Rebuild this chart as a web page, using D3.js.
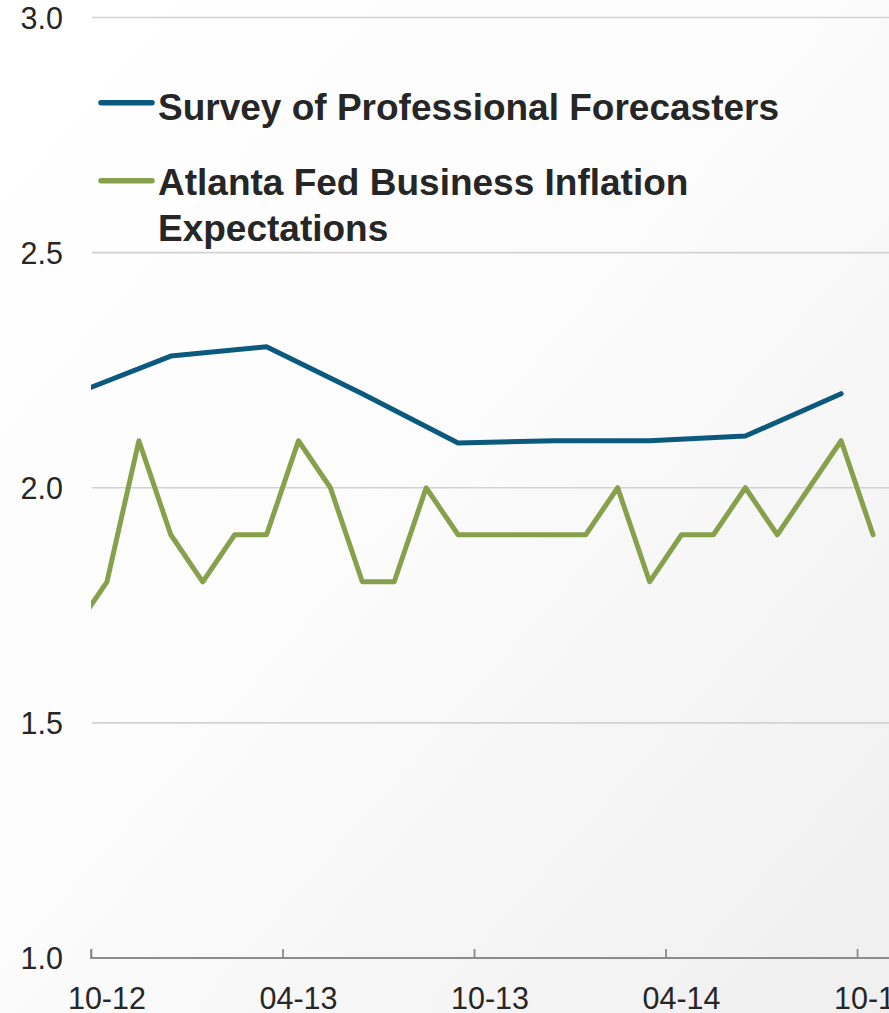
<!DOCTYPE html>
<html>
<head>
<meta charset="utf-8">
<script src="https://cdn.jsdelivr.net/npm/d3@7"></script>
<style>
  html, body { margin: 0; padding: 0; background: #ffffff; }
  svg { display: block; font-family: "Liberation Sans", Arial, sans-serif; }
</style>
</head>
<body>
<div id="chart"></div>
<script>
// Monthly index: 0 = Oct 2012 ... 24 = Oct 2014 (-1 = Sep 2012, just left of the plot)
const atlantaMonths = [-1, 0, 1, 2, 3, 4, 5, 6, 7, 8, 9, 10, 11, 12, 13, 14, 15, 16, 17, 18, 19, 20, 21, 22, 23, 24];
const atlantaValues = [1.7, 1.8, 2.1, 1.9, 1.8, 1.9, 1.9, 2.1, 2.0, 1.8, 1.8, 2.0, 1.9, 1.9, 1.9, 1.9, 1.9, 2.0, 1.8, 1.9, 1.9, 2.0, 1.9, 2.0, 2.1, 1.9];

// Quarterly survey readings
const spfMonths = [-1, 2, 5, 8, 11, 14, 17, 20, 23];
const spfValues = [2.2, 2.28, 2.30, 2.2, 2.095, 2.10, 2.10, 2.11, 2.20];

const yTicks = [1.0, 1.5, 2.0, 2.5, 3.0];
const xTickMonths = [0, 6, 12, 18, 24];
const xTickLabels = ["10-12", "04-13", "10-13", "04-14", "10-14"];

const seriesNames = ["Survey of Professional Forecasters", "Atlanta Fed Business Inflation", "Expectations"];

const W = 889, H = 1013;
const colors = { spf: "#0b5a7e", atlanta: "#87a04b" };

const svg = d3.select("#chart").append("svg")
  .attr("width", W).attr("height", H);

// soft background shading
const defs = svg.append("defs");
const grad = defs.append("linearGradient").attr("id", "bg")
  .attr("x1", "0").attr("y1", "0").attr("x2", "1").attr("y2", "1");
grad.append("stop").attr("offset", "0").attr("stop-color", "#ffffff");
grad.append("stop").attr("offset", "0.45").attr("stop-color", "#fcfcfc");
grad.append("stop").attr("offset", "0.75").attr("stop-color", "#f5f5f5");
grad.append("stop").attr("offset", "1").attr("stop-color", "#efefef");
svg.append("rect").attr("width", W).attr("height", H).attr("fill", "url(#bg)");

const plotLeft = 91, plotRight = 889, plotTop = 17.5, plotBottom = 958;

const x = d3.scaleLinear().domain([0, 25]).range([plotLeft, plotRight]);
const y = d3.scaleLinear().domain([1, 3]).range([plotBottom, plotTop]);

defs.append("clipPath").attr("id", "plotClip")
  .append("rect").attr("x", plotLeft).attr("y", 0)
  .attr("width", plotRight - plotLeft).attr("height", H);

// horizontal gridlines
svg.append("g")
  .selectAll("line")
  .data(yTicks.filter(v => v > 1))
  .join("line")
  .attr("x1", plotLeft + 1).attr("x2", plotRight)
  .attr("y1", d => y(d)).attr("y2", d => y(d))
  .attr("stroke", "#d2d2d2").attr("stroke-width", 1.6);

// y-axis labels
const yAxis = d3.axisLeft(y).tickValues(yTicks).tickFormat(d3.format(".1f")).tickSize(0).tickPadding(0);
svg.append("g")
  .attr("transform", `translate(63,0)`)
  .call(yAxis)
  .call(g => g.select(".domain").remove())
  .call(g => g.selectAll("text")
    .attr("font-size", "30.5px")
    .attr("font-family", "Liberation Sans, Arial, sans-serif")
    .attr("fill", "#262626")
    .attr("dy", "0.36em"));

// x axis: ticks at month boundaries pointing up, labels centred on the month
const xAxis = d3.axisBottom(x).tickValues(xTickMonths).tickSize(-9).tickFormat("");
svg.append("g")
  .attr("transform", `translate(0,${plotBottom})`)
  .call(xAxis)
  .call(g => g.select(".domain")
    .attr("stroke", "#8c8c8c").attr("stroke-width", 1.8)
    .attr("d", `M${plotLeft},-9V0H${plotRight}`))
  .call(g => g.selectAll(".tick line").attr("stroke", "#8c8c8c").attr("stroke-width", 1.8));

svg.append("g")
  .selectAll("text")
  .data(xTickMonths)
  .join("text")
  .attr("x", d => x(d + 0.5))
  .attr("y", 1009)
  .attr("text-anchor", "middle")
  .attr("font-size", "30.5px")
  .attr("fill", "#262626")
  .text((d, i) => xTickLabels[i]);

// series lines
const line = d3.line()
  .x(d => x(d[0] + 0.5))
  .y(d => y(d[1]));

const plot = svg.append("g").attr("clip-path", "url(#plotClip)");

plot.append("path")
  .datum(atlantaMonths.map((m, i) => [m, atlantaValues[i]]))
  .attr("d", line)
  .attr("fill", "none")
  .attr("stroke", colors.atlanta)
  .attr("stroke-width", 5)
  .attr("stroke-linejoin", "round")
  .attr("stroke-linecap", "round");

plot.append("path")
  .datum(spfMonths.map((m, i) => [m, spfValues[i]]))
  .attr("d", line)
  .attr("fill", "none")
  .attr("stroke", colors.spf)
  .attr("stroke-width", 5)
  .attr("stroke-linejoin", "round")
  .attr("stroke-linecap", "round");

// legend
const legend = svg.append("g");
const legendItems = [
  { color: colors.spf, ly: 102.7, lines: [seriesNames[0]], baseline: 120 },
  { color: colors.atlanta, ly: 180.7, lines: [seriesNames[1], seriesNames[2]], baseline: 195 }
];
legendItems.forEach(item => {
  legend.append("line")
    .attr("x1", 101).attr("x2", 152)
    .attr("y1", item.ly).attr("y2", item.ly)
    .attr("stroke", item.color).attr("stroke-width", 5.5)
    .attr("stroke-linecap", "round");
  const t = legend.append("text")
    .attr("x", 158).attr("y", item.baseline)
    .attr("font-size", "37px").attr("font-weight", "bold")
    .attr("fill", "#262626");
  item.lines.forEach((s, i) => {
    t.append("tspan").attr("x", 158).attr("dy", i === 0 ? 0 : 45.5).text(s);
  });
});
</script>
</body>
</html>
